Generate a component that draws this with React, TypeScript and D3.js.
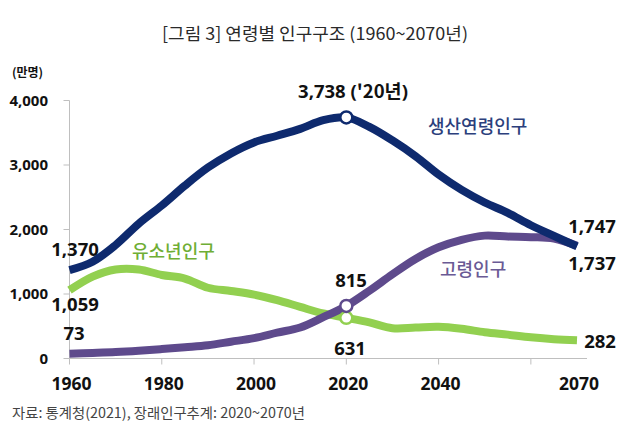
import React from "react";
import * as d3 from "d3";

const years = [1960,1965,1970,1975,1980,1985,1990,1995,2000,2005,2010,2015,2020,2025,2030,2035,2040,2045,2050,2055,2060,2065,2070];
const workingAge = [1370,1500,1760,2090,2372,2680,2960,3180,3350,3453,3560,3695,3738,3591,3381,3137,2852,2614,2419,2258,2066,1900,1737];
const youth = [1059,1270,1380,1380,1295,1240,1097,1047,991,905,800,698,631,560,470,480,491,460,408,370,330,300,282];
const elderly = [73,85,99,120,146,175,206,260,315,400,480,640,815,1051,1306,1543,1724,1841,1905,1890,1881,1860,1747];

const yTicks = [0,1000,2000,3000,4000];
const xTickYears = [1960,1980,2000,2020,2040,2060];
const xLabels = [
  { year: 1960, text: "1960" },
  { year: 1980, text: "1980" },
  { year: 2000, text: "2000" },
  { year: 2020, text: "2020" },
  { year: 2040, text: "2040" },
  { year: 2070, text: "2070" },
];

const NAVY = "#0e2a6e";
const GREEN = "#92d050";
const PURPLE = "#5e4a8c";

export default function App() {
  const x = d3.scaleLinear().domain([1960, 2070]).range([69.5, 577]);
  const y = d3.scaleLinear().domain([0, 4000]).range([358.5, 100.5]);
  const line = (vals: number[]) =>
    d3.line<number>().x((_, i) => x(years[i])).y((d) => y(d)).curve(d3.curveCatmullRom.alpha(0.5))(vals) || "";
  const i2020 = years.indexOf(2020);
  const iLast = years.length - 1;
  const num = "'Open Sans', sans-serif";
  const kr = "'Noto Sans CJK KR', sans-serif";
  const f = d3.format(",");
  return (
    <svg width={630} height={439} style={{ position: "absolute", left: 0, top: 0, background: "#fff" }}>
      <rect x={0} y={0} width={630} height={439} fill="#fff" />
      <text x={162} y={40} textLength={306} lengthAdjust="spacingAndGlyphs" fontFamily={kr} fontSize={17} fill="#2a2a2a">
        [그림 3] 연령별 인구구조 (1960~2070년)
      </text>
      <text x={12} y={77} fontFamily={kr} fontSize={12} fontWeight={700} fill="#111">(만명)</text>
      {/* y axis */}
      <line x1={x(1960)} x2={x(1960)} y1={y(4000)} y2={y(0)} stroke="#bfbfbf" strokeWidth={1} />
      {yTicks.map((t) => (
        <g key={t}>
          <line x1={x(1960) - 6} x2={x(1960)} y1={y(t)} y2={y(t)} stroke="#bfbfbf" />
          <text x={48} y={y(t)} dy="0.36em" textAnchor="end" fontFamily={num} fontWeight={700} fontSize={15} fill="#111">
            {f(t)}
          </text>
        </g>
      ))}
      {/* x axis */}
      <line x1={x(1960)} x2={x(2070) + 10} y1={y(0)} y2={y(0)} stroke="#bfbfbf" />
      {xTickYears.map((t) => (
        <line key={t} x1={x(t)} x2={x(t)} y1={y(0)} y2={y(0) + 6} stroke="#bfbfbf" />
      ))}
      {xLabels.map((l) => (
        <text key={l.year} x={x(l.year) + 2} y={390} textAnchor="middle" fontFamily={num} fontWeight={700} fontSize={17.5} fill="#111">
          {l.text}
        </text>
      ))}
      {/* lines */}
      <path d={line(youth)} fill="none" stroke={GREEN} strokeWidth={8} strokeLinejoin="round" />
      <path d={line(elderly)} fill="none" stroke={PURPLE} strokeWidth={8} strokeLinejoin="round" />
      <path d={line(workingAge)} fill="none" stroke={NAVY} strokeWidth={8} strokeLinejoin="round" />
      {/* markers */}
      <circle cx={x(2020)} cy={y(youth[i2020])} r={6} fill="#fff" stroke={GREEN} strokeWidth={2.5} />
      <circle cx={x(2020)} cy={y(elderly[i2020])} r={6} fill="#fff" stroke={PURPLE} strokeWidth={2.5} />
      <circle cx={x(2020)} cy={y(workingAge[i2020])} r={6} fill="#fff" stroke={NAVY} strokeWidth={2.5} />
      {/* value labels */}
      <g fontFamily={num} fontWeight={700} fontSize={18.5} fill="#111">
        <text x={75} y={256} textAnchor="middle">{f(workingAge[0])}</text>
        <text x={75} y={311} textAnchor="middle">{f(youth[0])}</text>
        <text x={74} y={340} textAnchor="middle">{f(elderly[0])}</text>
        <text x={351} y={287} textAnchor="middle">{f(elderly[i2020])}</text>
        <text x={350} y={355} textAnchor="middle">{f(youth[i2020])}</text>
        <text x={592} y={233} textAnchor="middle">{f(elderly[iLast])}</text>
        <text x={592} y={270} textAnchor="middle">{f(workingAge[iLast])}</text>
        <text x={600} y={348} textAnchor="middle">{f(youth[iLast])}</text>
        <text x={353} y={98} textAnchor="middle">
          {f(workingAge[i2020])} (<tspan fontFamily={kr} fontWeight={700}>'20년</tspan>)
        </text>
      </g>
      {/* series names */}
      <g fontFamily={kr} fontSize={18} fontWeight={500}>
        <text x={428} y={133} fill="#2c3f7c">생산연령인구</text>
        <text x={132} y={258} fill="#6fae35">유소년인구</text>
        <text x={440} y={276} fill="#6a5a95">고령인구</text>
      </g>
      <text x={12} y={418} textLength={293} lengthAdjust="spacingAndGlyphs" fontFamily={kr} fontSize={14} fill="#444">
        자료: 통계청(2021), 장래인구추계: 2020~2070년
      </text>
    </svg>
  );
}
